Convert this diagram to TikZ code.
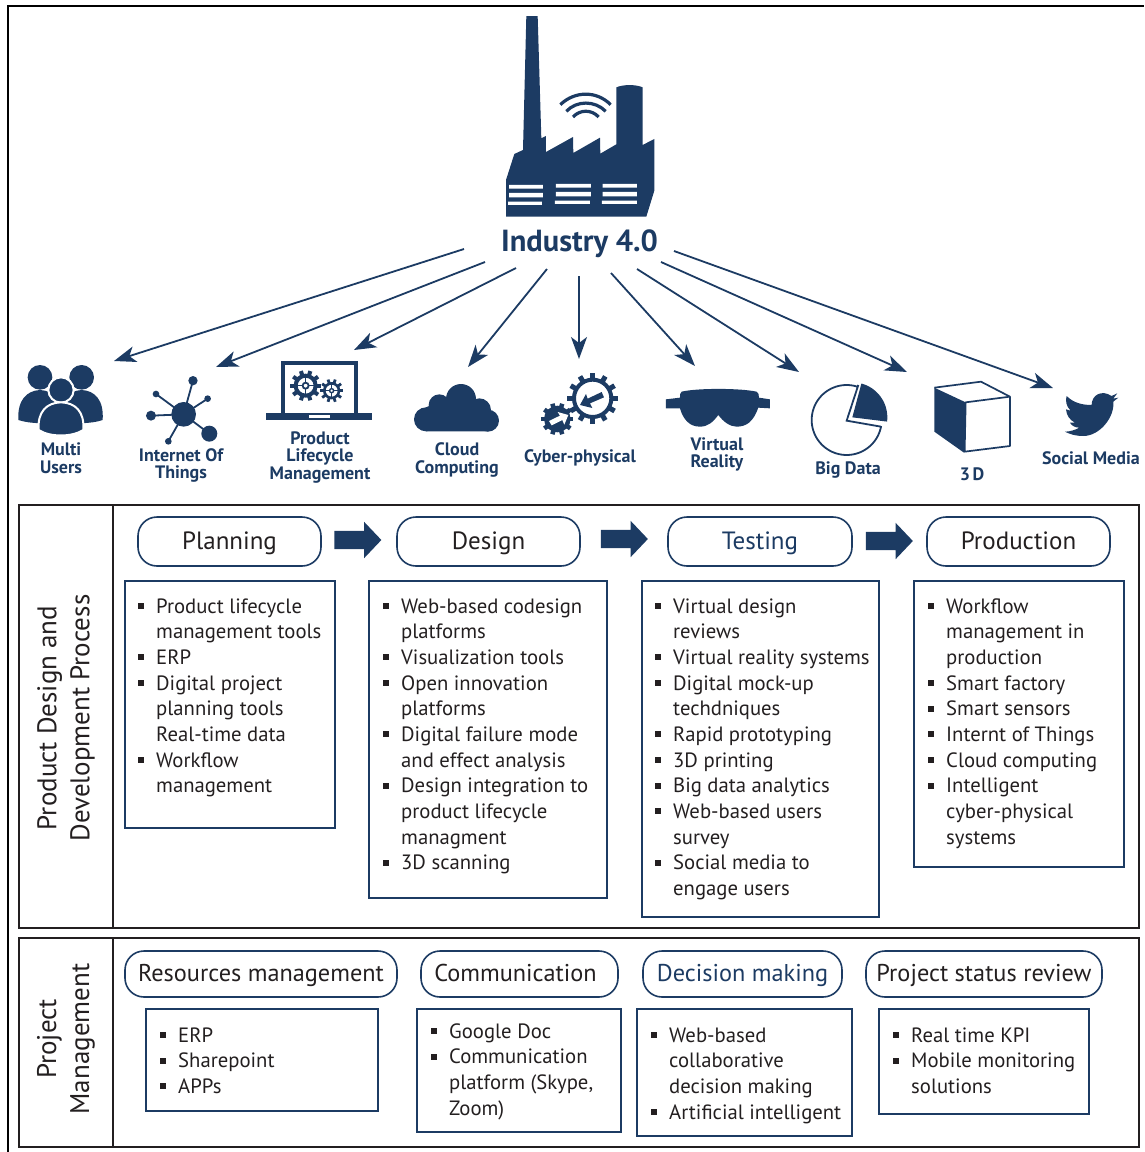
\documentclass[tikz,border=0pt]{standalone}
\usepackage{fontspec}
\setmainfont{PT Sans}
\usetikzlibrary{arrows.meta,shapes.arrows}
\definecolor{navy}{HTML}{1C3B63}
\definecolor{ink}{HTML}{231F20}
\newcommand\blt{\makebox[0pt][r]{\raisebox{4pt}{\rule{6pt}{6pt}}\hspace{12pt}}}
% gear: cx cy ringradius ringwidth toothouter teeth toothwidth
\newcommand\gearicon[7]{%
  \draw[navy,line width=#4pt] (#1,#2) circle[radius=#3];
  \foreach \g in {1,...,#6}{\draw[navy,line width=#7pt] ({#1+#3*cos(\g*360/#6)},{#2+#3*sin(\g*360/#6)}) -- ({#1+#5*cos(\g*360/#6)},{#2+#5*sin(\g*360/#6)});}%
}
\tikzset{
  frame/.style={draw=black,line width=2pt},
  panel/.style={draw=ink,line width=1.6pt,inner sep=0},
  pill/.style={draw=navy,line width=1.6pt,rounded corners=19pt,inner sep=0,text=ink,font=\fontsize{25}{30}\selectfont,text height=21pt,text depth=5pt},
  pillb/.style={pill,font=\fontsize{24.3}{30}\selectfont,text height=18pt,text depth=4pt},
  listbox/.style={draw=navy,line width=1.8pt,inner sep=0},
  listtext/.style={anchor=north west,inner sep=0,align=left,text=ink,font=\fontsize{20.7}{25.65}\selectfont},
  icontext/.style={inner sep=0,align=center,text=navy,font=\fontsize{18}{17.5}\selectfont\bfseries},
  headtext/.style={inner sep=0,align=center,text=ink,rotate=90,font=\fontsize{27}{33}\selectfont},
  link/.style={draw=navy,line width=1.8pt,-{Stealth[length=22pt,width=16pt,inset=6pt]}},
  flow/.style={single arrow,fill=navy,minimum height=47pt,minimum width=36pt,single arrow head extend=9pt,inner xsep=0,inner ysep=9pt,single arrow tip angle=93},
}
\begin{document}
\begin{tikzpicture}[x=1pt,y=-1pt]
\useasboundingbox (0,0) rectangle (1144,1152);
\draw[frame] (8,1152) -- (8,6) -- (1144,6);

% factory
\begin{scope}[shift={(480,0)},x=0.3333pt,y=-0.3333pt]
\fill[navy] (139,48) -- (173,48) -- (184,415) -- (198,408) -- (198,456) -- (279,411) -- (280,459) -- (360,413) -- (361,461) -- (409,433) -- (409,262) .. controls (430,253) and (468,253) .. (488,262) -- (488,435) -- (523,417) -- (523,572) -- (499,650) -- (78,650) -- (78,540) -- (103,462) -- (129,450) -- cycle;
\fill[white] (87,555) rectangle (189,566) (87,579) rectangle (189,592) (84,605) rectangle (186,615);
\fill[white] (228,552) rectangle (333,563) (228,576) rectangle (333,589) (225,602) rectangle (330,612);
\fill[white] (368,552) rectangle (471,563) (368,576) rectangle (471,589) (366,602) rectangle (471,612);
\draw[navy,line width=3.2pt] (241,314) .. controls (285,272) and (350,272) .. (392,314);
\draw[navy,line width=3.2pt] (259,334) .. controls (290,301) and (345,301) .. (377,334);
\draw[navy,line width=3.2pt] (279,351) .. controls (300,328) and (335,328) .. (356,351);
\end{scope}
\node[inner sep=0,text=navy,font=\fontsize{30.5}{32}\selectfont\bfseries] (ind) at (579.5,244) {Industry 4.0};

% multi users
\begin{scope}[shift={(0,350)},x=0.3333pt,y=-0.3333pt]
\fill[navy] (120,82) circle[radius=37];
\fill[navy] (245,82) circle[radius=37];
\fill[navy] (55,210) .. controls (52,150) and (80,122) .. (120,120) .. controls (160,122) and (190,150) .. (187,215) .. controls (150,222) and (90,222) .. (55,210) -- cycle;
\fill[navy] (180,215) .. controls (178,150) and (205,122) .. (245,120) .. controls (285,122) and (312,150) .. (308,210) .. controls (275,222) and (215,222) .. (180,215) -- cycle;
\draw[white,line width=2pt,fill=navy] (183,120) circle[radius=38];
\draw[white,line width=2pt,fill=navy] (116,240) .. controls (112,185) and (140,158) .. (183,157) .. controls (226,158) and (254,185) .. (250,240) .. controls (215,262) and (150,262) .. (116,240) -- cycle;
\end{scope}

% internet of things
\begin{scope}[shift={(0,350)},x=0.3333pt,y=-0.3333pt]
\draw[navy,line width=1.8pt] (551,193) -- (579,92) (551,193) -- (468,132) (551,193) -- (623,146) (551,193) -- (453,197) (551,193) -- (628,251) (551,193) -- (505,274);
\fill[navy] (551,193) circle[radius=37] (579,92) circle[radius=14] (468,132) circle[radius=10] (623,146) circle[radius=10] (453,197) circle[radius=15] (628,251) circle[radius=24] (505,274) circle[radius=10];
\end{scope}

% laptop
\begin{scope}[shift={(0,350)},x=0.3333pt,y=-0.3333pt]
\draw[navy,line width=4pt] (849,190) -- (849,39) -- (1067,39) -- (1067,190);
\fill[navy] (799,190) rectangle (1117,210);
\fill[white] (928,196) rectangle (990,203);
\gearicon{917}{107}{30}{4}{46}{10}{4}
\draw[navy,line width=1.6pt] (887,107) -- (947,107) (917,77) -- (917,137);
\draw[navy,line width=1.8pt,fill=white] (917,107) circle[radius=9];
\gearicon{995}{122}{22}{2.6}{35}{10}{2.8}
\draw[navy,line width=1.1pt] (973,122) -- (1017,122) (995,100) -- (995,144);
\draw[navy,line width=1.4pt,fill=white] (995,122) circle[radius=6];
\end{scope}

% cloud
\begin{scope}[shift={(400,360)},x=0.3333pt,y=-0.3333pt]
\fill[navy] (118,135) circle[radius=32] (183,117) circle[radius=45] (238,150) circle[radius=35] (264,182) circle[radius=33] (78,178) circle[radius=36];
\fill[navy] (78,142) -- (118,125) -- (238,125) -- (264,149) -- (264,214) -- (78,214) -- cycle;
\end{scope}

% cyber-physical gears
\begin{scope}[shift={(400,360)},x=0.3333pt,y=-0.3333pt]
\gearicon{578}{115}{56}{4}{76}{12}{5}
\fill[navy] (605,96) -- (612,112) -- (570,130) -- (577,144) -- (540,135) -- (558,102) -- (563,116) -- cycle;
\gearicon{472}{177}{20}{13}{48}{10}{4.5}
\fill[white] (447,183) -- (480,167) -- (473,156) -- (505,165) -- (493,194) -- (487,180) -- (455,196) -- cycle;
\end{scope}

% goggles
\begin{scope}[shift={(400,360)},x=0.3333pt,y=-0.3333pt]
\fill[navy] (845,95) .. controls (890,84) and (1020,84) .. (1070,95) .. controls (1076,98) and (1077,105) .. (1077,113) -- (1110,118) -- (1110,145) -- (1075,143) .. controls (1060,185) and (1040,200) .. (1010,200) .. controls (990,200) and (970,185) .. (955,165) .. controls (940,185) and (925,200) .. (900,200) .. controls (870,200) and (850,180) .. (840,145) -- (798,145) -- (798,118) -- (840,113) .. controls (840,105) and (840,98) .. (845,95) -- cycle;
\end{scope}

% big data
\begin{scope}[shift={(790,360)},x=0.3333pt,y=-0.3333pt]
\draw[navy,line width=1.8pt] (205,75) -- (170,182) -- (273,200) -- plot[domain=10:288,samples=70] ({170+105*cos(\x)},{180+105*sin(\x)}) -- cycle;
\fill[navy] (187,172) -- plot[domain=-75:7,samples=30] ({187+105*cos(\x)},{172+105*sin(\x)}) -- cycle;
\end{scope}

% cube
\begin{scope}[shift={(790,360)},x=0.3333pt,y=-0.3333pt]
\fill[navy] (433,83) -- (527,127) -- (522,278) -- (433,215) -- cycle;
\draw[navy,line width=1.7pt,line join=round] (433,83) -- (573,65) -- (660,110) -- (527,127) -- (524,275) -- (660,258) -- (660,110);
\end{scope}

% bird
\begin{scope}[shift={(790,360)},x=0.3333pt,y=-0.3333pt]
\fill[navy] (905,135) .. controls (905,105) and (935,88) .. (965,108) -- (982,100) -- (970,116) -- (985,113) -- (970,125) .. controls (975,170) and (930,228) .. (880,228) .. controls (855,228) and (838,222) .. (825,215) .. controls (840,215) and (855,210) .. (868,203) .. controls (855,203) and (845,197) .. (840,188) -- (855,188) .. controls (840,180) and (830,168) .. (828,148) -- (842,152) .. controls (828,138) and (826,122) .. (830,108) .. controls (850,128) and (875,135) .. (905,135) -- cycle;
\end{scope}

% icon labels
\node[icontext] (l1) at (61,458) {Multi\\Users};
\node[icontext] (l2) at (181,465.5) {Internet Of\\Things};
\node[icontext] (l3) at (320,457.5) {Product\\Lifecycle\\Management};
\node[icontext] (l4) at (457,460) {Cloud\\Computing};
\node[icontext] (l5) at (580,458) {Cyber-physical};
\node[icontext] (l6) at (717,454.5) {Virtual\\Reality};
\node[icontext] (l7) at (848,470) {Big Data};
\node[icontext] (l8) at (972,474) {3\kern2.5pt D};
\node[icontext] (l9) at (1091,458.5) {Social Media};

% connectors
\foreach \n/\sx/\sy/\ex/\ey in {a/464/249/114/361,b/485/262/216/367,c/516/268/354/350,d/547/269/468/367,e/579/276/579/359,f/611/273/695/366,g/637/269/799/372,h/661/262/907/372,i/674/251/1053/388}{
  \coordinate (s\n) at (\sx,\sy);
  \coordinate (e\n) at (\ex,\ey);
  \draw[link] (s\n) -- (e\n);
}

% panels
\node[panel,minimum width=1120pt,minimum height=423pt] (p1) at (579,716.5) {};
\node[panel,minimum width=94pt,minimum height=423pt] (p1h) at (66,716.5) {};
\node[panel,minimum width=1120pt,minimum height=209pt] (p2) at (579,1042.5) {};
\node[panel,minimum width=94pt,minimum height=209pt] (p2h) at (66,1042.5) {};
\node[headtext] (t1) at (66,718) {Product Design and\\Development Process};
\node[headtext] (t2) at (66,1039) {Project\\Management};

% stage pills
\node[pill,minimum width=183pt,minimum height=49pt] (pl) at (229.5,541.5) {Planning};
\node[pill,minimum width=183pt,minimum height=49pt] (de) at (488.5,541.5) {Design};
\node[pill,minimum width=184pt,minimum height=49pt,text=navy] (te) at (760,541.5) {Testing};
\node[pill,minimum width=183pt,minimum height=49pt] (pr) at (1018.5,541.5) {Production};
\node[flow] (f1) at (353.5,540) {};
\node[flow] (f2) at (620,539) {};
\node[flow] (f3) at (885,541) {};

% stage lists
\node[listbox,minimum width=210pt,minimum height=247pt] (b1) at (230,704.5) {};
\node[listbox,minimum width=238pt,minimum height=317pt] (b2) at (488,739.5) {};
\node[listbox,minimum width=237pt,minimum height=336pt] (b3) at (760.5,749) {};
\node[listbox,minimum width=210pt,minimum height=286pt] (b4) at (1019,724) {};
\node[listtext] (x1) at (156,595) {\strut\blt Product lifecycle\\management tools\\\blt ERP\\\blt Digital project\\planning tools\\Real-time data\\\blt Workflow\\management};
\node[listtext] (x2) at (401,595) {\strut\blt Web-based codesign\\platforms\\\blt Visualization tools\\\blt Open innovation\\platforms\\\blt Digital failure mode\\and effect analysis\\\blt Design integration to\\product lifecycle\\managment\\\blt 3D scanning};
\node[listtext] (x3) at (673,595) {\strut\blt Virtual design\\reviews\\\blt Virtual reality systems\\\blt Digital mock-up\\techdniques\\\blt Rapid prototyping\\\blt 3D printing\\\blt Big data analytics\\\blt Web-based users\\survey\\\blt Social media to\\engage users};
\node[listtext] (x4) at (946,595) {\strut\blt Workflow\\management in\\production\\\blt Smart factory\\\blt Smart sensors\\\blt Internt of Things\\\blt Cloud computing\\\blt Intelligent\\cyber-physical\\systems};

% management pills
\node[pillb,minimum width=272pt,minimum height=46pt] (r1) at (261,974) {Resources management};
\node[pillb,minimum width=197pt,minimum height=46pt] (r2) at (519.5,974) {Communication\kern8pt};
\node[pillb,minimum width=199pt,minimum height=46pt,text=navy] (r3) at (742.5,974) {Decision making};
\node[pillb,minimum width=236pt,minimum height=46pt] (r4) at (984,974) {Project status review};

% management lists
\node[listbox,minimum width=232pt,minimum height=102pt] (c1) at (262,1060) {};
\node[listbox,minimum width=204pt,minimum height=123pt] (c2) at (519,1070.5) {};
\node[listbox,minimum width=215pt,minimum height=127pt] (c3) at (744.5,1072.5) {};
\node[listbox,minimum width=210pt,minimum height=105pt] (c4) at (984,1061.5) {};
\node[listtext] (y1) at (178,1024) {\strut\blt ERP\\\blt Sharepoint\\\blt APPs};
\node[listtext] (y2) at (449,1020) {\strut\blt Google Doc\\\blt Communication\\platform (Skype,\\Zoom)};
\node[listtext] (y3) at (669,1024) {\strut\blt Web-based\\collaborative\\decision making\\\blt Artificial intelligent};
\node[listtext] (y4) at (911,1024) {\strut\blt Real time KPI\\\blt Mobile monitoring\\solutions};
\end{tikzpicture}
\end{document}
